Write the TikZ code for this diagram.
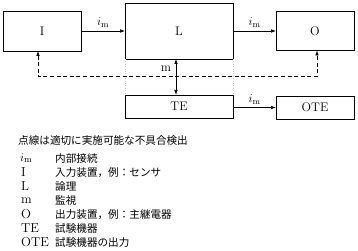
\documentclass[tikz,border=0pt]{standalone}
\usepackage{fontspec}
\newfontfamily\jp{Noto Sans CJK JP}
\usetikzlibrary{arrows.meta}
\begin{document}
\begin{tikzpicture}[x=1pt,y=-1pt,
  box/.style={draw,line width=0.8pt,inner sep=0pt,outer sep=0pt,font=\fontsize{12.5}{14}\selectfont},
  arr/.style={line width=0.7pt,-{Latex[length=5pt,width=3.6pt]}},
  dsh/.style={line width=0.7pt,dash pattern=on 4pt off 2.6pt},
  lab/.style={inner sep=0pt,font=\fontsize{12.5}{14}\selectfont},
  lbl/.style={inner sep=0pt,anchor=west,font=\fontsize{13}{14}\selectfont},
  jtxt/.style={inner sep=0pt,anchor=west,font=\fontsize{10.6}{12}\selectfont\jp},
  guide/.style={gray!45,line width=0.4pt,dotted}]
\useasboundingbox (0,0) rectangle (358,251);
% boxes
\node[box,minimum width=78pt,minimum height=40pt] (I) at (42,31) {I};
\node[box,minimum width=108pt,minimum height=56pt] (L) at (179,31) {L};
\node[box,minimum width=78pt,minimum height=39pt] (O) at (315,31) {O};
\node[box,minimum width=108pt,minimum height=23pt] (TE) at (179,106.5) {TE};
\node[box,minimum width=78pt,minimum height=23pt] (OTE) at (315,107.5) {OTE};
% faint guide lines
\draw[guide] (L.south west) -- (TE.north west);
\draw[guide] (L.south east) -- (TE.north east);
% solid arrows
\draw[arr] (I.east) -- (I.east -| L.west) node[lab,midway,above=3pt] {$i_\mathrm{m}$};
\draw[arr] (L.east |- O.east) -- (O.west) node[lab,midway,above=3pt] {$i_\mathrm{m}$};
\draw[arr] (TE.east |- OTE.west) -- (OTE.west) node[lab,midway,above=3pt] {$i_\mathrm{m}$};
% dashed feedback
\coordinate (dl) at (38,76.7);
\coordinate (dr) at (317,76.7);
\coordinate (mx) at (176,76.7);
\draw[dsh,{Latex[length=5pt,width=3.6pt]}-{Latex[length=5pt,width=3.6pt]}] (I.south -| dl) -- (dl) -- (dr) -- (O.south -| dr);
% monitoring arrow
\draw[line width=0.7pt,{Latex[length=5pt,width=3.6pt]}-{Latex[length=5pt,width=3.6pt]}] (L.south -| mx) -- (TE.north -| mx);
\node[lab] (m) at (166,69) {m};
% legend
\node[jtxt] (hdr) at (18,140) {点線は適切に実施可能な不具合検出};
\node[lbl] (k1) at (20,158) {$i_\mathrm{m}$};
\node[jtxt] (v1) at (55,158) {内部接続};
\node[lbl] (k2) at (21,172.5) {I};
\node[jtxt] (v2) at (55,172.5) {入力装置，例：センサ};
\node[lbl] (k3) at (21,186.5) {L};
\node[jtxt] (v3) at (55,186.5) {論理};
\node[lbl] (k4) at (21,200.5) {m};
\node[jtxt] (v4) at (55,200.5) {監視};
\node[lbl] (k5) at (21,214.5) {O};
\node[jtxt] (v5) at (55,214.5) {出力装置，例：主継電器};
\node[lbl] (k6) at (21,228.5) {TE};
\node[jtxt] (v6) at (55,228.5) {試験機器};
\node[lbl] (k7) at (21,242.5) {OTE};
\node[jtxt] (v7) at (55,242.5) {試験機器の出力};
\end{tikzpicture}
\end{document}
